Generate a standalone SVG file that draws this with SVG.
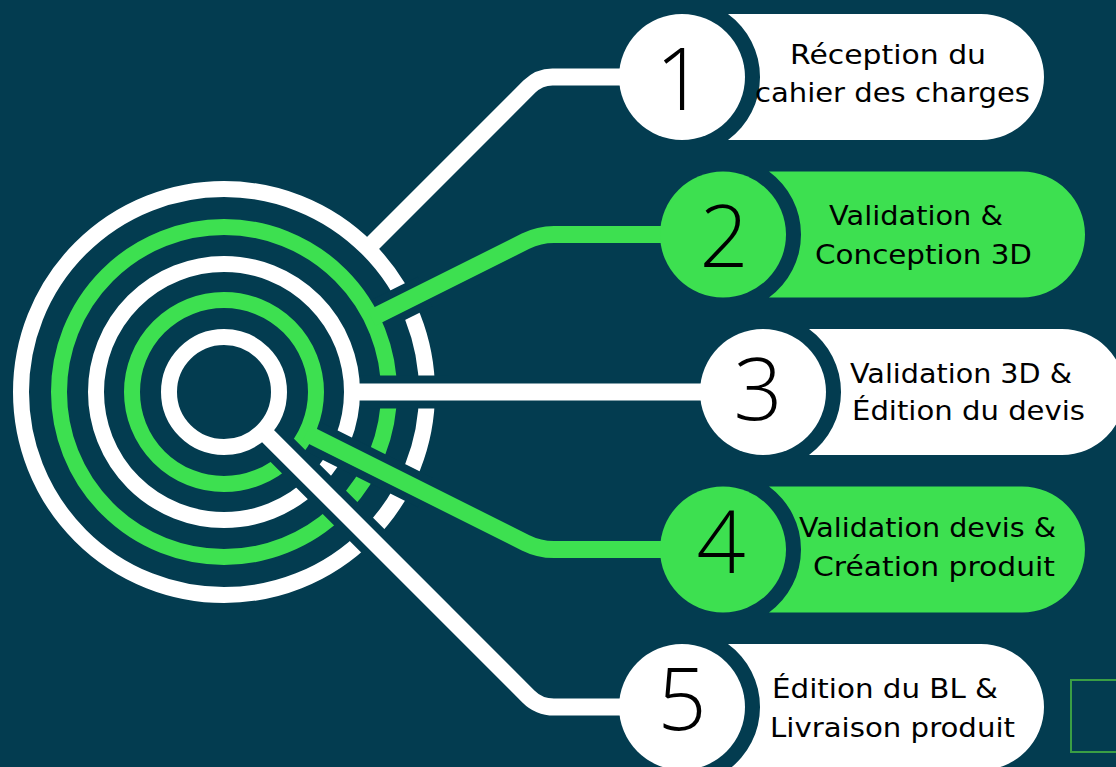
<svg xmlns="http://www.w3.org/2000/svg" width="1116" height="767" viewBox="0 0 1116 767">
<style>
.bg{fill:#033c50}
.ringW{fill:none;stroke:#ffffff;stroke-width:16}
.ringG{fill:none;stroke:#3de050;stroke-width:16}
.halo{fill:none;stroke:#033c50;stroke-width:33;stroke-linecap:butt}
.lnW{fill:none;stroke:#ffffff;stroke-width:17;stroke-linejoin:round}
.lnG{fill:none;stroke:#3de050;stroke-width:17;stroke-linejoin:round}
.pW{fill:#ffffff}
.pG{fill:#3de050}
.num{font-family:"Open Sans","DejaVu Sans",sans-serif;font-weight:300;font-size:86px;fill:#000;text-anchor:middle}
.lbl{font-family:"DejaVu Sans","Liberation Sans",sans-serif;font-size:27px;fill:#000}
</style>
<rect class="bg" x="0" y="0" width="1116" height="767"/>
<g id="target">
<circle class="ringW" cx="224" cy="392" r="55"/>
<circle class="ringG" cx="224" cy="392" r="92"/>
<circle class="ringW" cx="224" cy="392" r="128"/>
<circle class="ringG" cx="224" cy="392" r="165"/>
<circle class="ringW" cx="224" cy="392" r="203"/>
</g>
<g id="connectors">
<path class="halo" d="M269.3 437.3 L383.1 551.1"/>
<path class="halo" d="M314.3 437.2 L425.2 492.6"/>
<path class="halo" d="M361 392 L449 392"/>
<path class="halo" d="M379.6 314.2 L425.2 291.4"/>
<path class="lnW" d="M367.5 248.5 L529.4 86.6 Q540 76 555 77 L682 77"/>
<path class="lnG" d="M371.6 318.2 L525.6 241.2 Q539 234.5 554 234.5 L723 234.5"/>
<path class="lnW" d="M352 392 L763 392"/>
<path class="lnG" d="M306.3 433.1 L525.6 542.8 Q539 549.5 554 549.5 L723 549.5"/>
<path class="lnW" d="M262.9 430.9 L528.4 696.4 Q539 707 554 707 L682 707"/>
</g>
<g id="node1">
<path class="pW" d="M728 14 H981 A63 63 0 0 1 981 140 H728 A78 78 0 0 0 728 14 Z"/>
<circle class="pW" cx="682" cy="77" r="63"/>
<text class="num" x="680" y="110">1</text>
<text class="lbl" x="790" y="64" textLength="196" lengthAdjust="spacingAndGlyphs">Réception du</text>
<text class="lbl" x="755" y="102" textLength="275" lengthAdjust="spacingAndGlyphs">cahier des charges</text>
</g>
<g id="node2">
<path class="pG" d="M769 171.5 H1022 A63 63 0 0 1 1022 297.5 H769 A78 78 0 0 0 769 171.5 Z"/>
<circle class="pG" cx="723" cy="234.5" r="63"/>
<text class="num" x="724" y="267">2</text>
<text class="lbl" x="829" y="225" textLength="174" lengthAdjust="spacingAndGlyphs">Validation &amp;</text>
<text class="lbl" x="815" y="264" textLength="217" lengthAdjust="spacingAndGlyphs">Conception 3D</text>
</g>
<g id="node3">
<path class="pW" d="M809 329 H1062 A63 63 0 0 1 1062 455 H809 A78 78 0 0 0 809 329 Z"/>
<circle class="pW" cx="763" cy="392" r="63"/>
<text class="num" x="758" y="420">3</text>
<text class="lbl" x="850" y="383" textLength="222" lengthAdjust="spacingAndGlyphs">Validation 3D &amp;</text>
<text class="lbl" x="852" y="420" textLength="233" lengthAdjust="spacingAndGlyphs">Édition du devis</text>
</g>
<g id="node4">
<path class="pG" d="M769 486.5 H1022 A63 63 0 0 1 1022 612.5 H769 A78 78 0 0 0 769 486.5 Z"/>
<circle class="pG" cx="723" cy="549.5" r="63"/>
<text class="num" x="721" y="573">4</text>
<text class="lbl" x="799" y="537" textLength="257" lengthAdjust="spacingAndGlyphs">Validation devis &amp;</text>
<text class="lbl" x="813" y="576" textLength="242" lengthAdjust="spacingAndGlyphs">Création produit</text>
</g>
<g id="node5">
<path class="pW" d="M728 644 H981 A63 63 0 0 1 981 770 H728 A78 78 0 0 0 728 644 Z"/>
<circle class="pW" cx="682" cy="707" r="63"/>
<text class="num" x="682" y="730">5</text>
<text class="lbl" x="772" y="698" textLength="226" lengthAdjust="spacingAndGlyphs">Édition du BL &amp;</text>
<text class="lbl" x="770" y="737" textLength="245" lengthAdjust="spacingAndGlyphs">Livraison produit</text>
</g>
<rect x="1071" y="680" width="80" height="72" fill="none" stroke="#3a9e44" stroke-width="2"/>
</svg>
